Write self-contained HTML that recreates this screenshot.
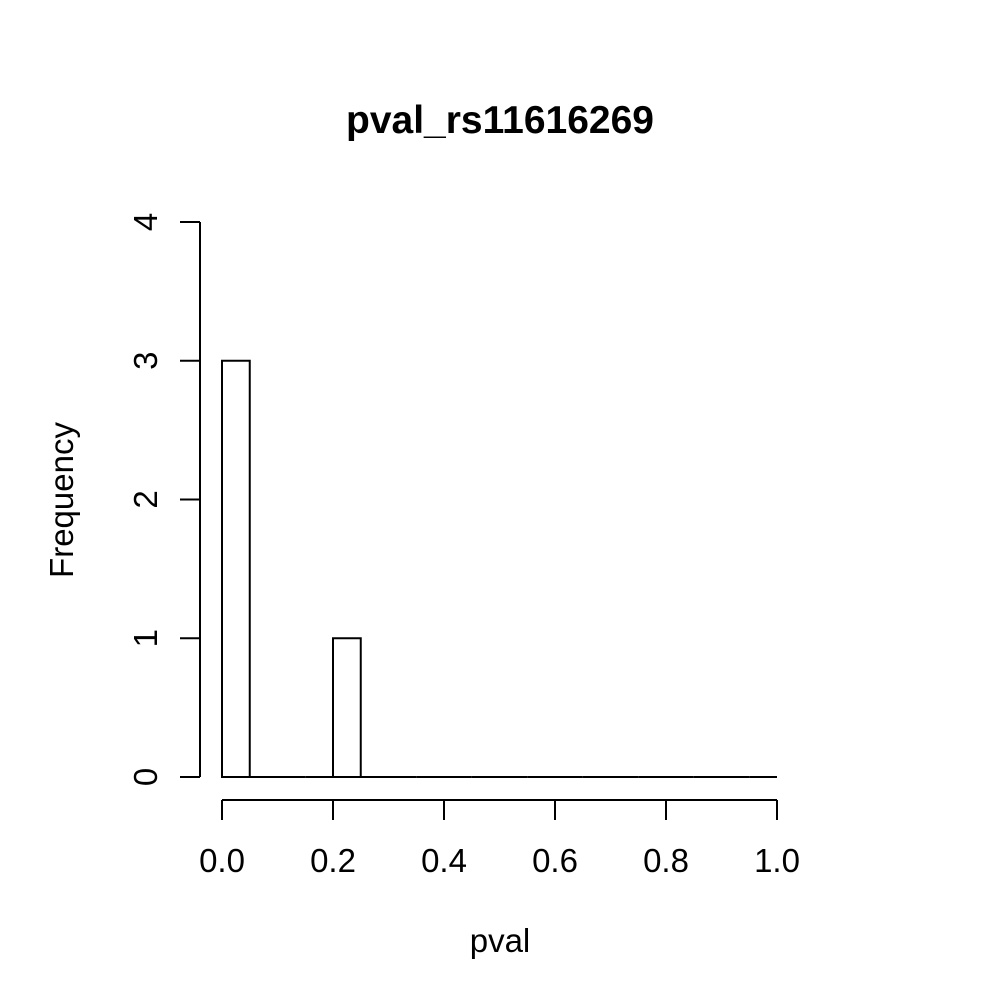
<!DOCTYPE html>
<html><head><meta charset="utf-8"><style>body{margin:0;background:#fff}svg{display:block}text{font-family:"Liberation Sans",sans-serif;fill:#000}</style></head>
<body>
<svg id="chart" width="1000" height="1000" viewBox="0 0 1000 1000">
<rect width="1000" height="1000" fill="#fff"/>
<text x="500" y="133" font-size="39" font-weight="bold" text-anchor="middle">pval_rs11616269</text>
<text x="500" y="952" font-size="33" text-anchor="middle">pval</text>
<text transform="translate(73,500) rotate(-90)" font-size="33" text-anchor="middle">Frequency</text>
<g id="bars"></g><g id="xaxis"></g><g id="yaxis"></g>
</svg>
<script>
const binStarts=[0,0.05,0.1,0.15,0.2,0.25,0.3,0.35,0.4,0.45,0.5,0.55,0.6,0.65,0.7,0.75,0.8,0.85,0.9,0.95];
const counts=[3,0,0,0,1,0,0,0,0,0,0,0,0,0,0,0,0,0,0,0];
const binWidth=0.05;
const xTicks=[0,0.2,0.4,0.6,0.8,1.0];
const xTickLabels=["0.0","0.2","0.4","0.6","0.8","1.0"];
const yTicks=[0,1,2,3,4];
const ns="http://www.w3.org/2000/svg";
const xs=v=>222+v*555, ys=v=>777-v*138.75;
function mk(t,a,p){const e=document.createElementNS(ns,t);for(const k in a)e.setAttribute(k,a[k]);p.appendChild(e);return e;}
const bars=document.getElementById('bars');
binStarts.forEach((b,i)=>{
 const x0=xs(b),x1=xs(b+binWidth),y=ys(counts[i]),y0=ys(0);
 const r=mk('path',{d:`M${x0},${y0}L${x0},${y}L${x1},${y}L${x1},${y0}Z`,fill:'none',stroke:'#000','stroke-width':2},bars);
 
 
});
const xa=document.getElementById('xaxis');


mk('line',{x1:xs(xTicks[0]),x2:xs(xTicks[xTicks.length-1]),y1:800,y2:800,stroke:'#000','stroke-width':2},xa);
xTicks.forEach((t,i)=>{
 mk('line',{x1:xs(t),x2:xs(t),y1:800,y2:820,stroke:'#000','stroke-width':2},xa);
 const tx=mk('text',{x:xs(t),y:872,'font-size':33,'text-anchor':'middle'},xa);
 tx.textContent=xTickLabels[i];
 
 
});
const ya=document.getElementById('yaxis');


mk('line',{x1:200,x2:200,y1:ys(yTicks[yTicks.length-1]),y2:ys(yTicks[0]),stroke:'#000','stroke-width':2},ya);
yTicks.forEach(t=>{
 mk('line',{x1:180,x2:200,y1:ys(t),y2:ys(t),stroke:'#000','stroke-width':2},ya);
 const tx=mk('text',{transform:`translate(157,${ys(t)}) rotate(-90)`,'font-size':33,'text-anchor':'middle'},ya);
 tx.textContent=String(t);
 
 
});
</script>
</body></html>
